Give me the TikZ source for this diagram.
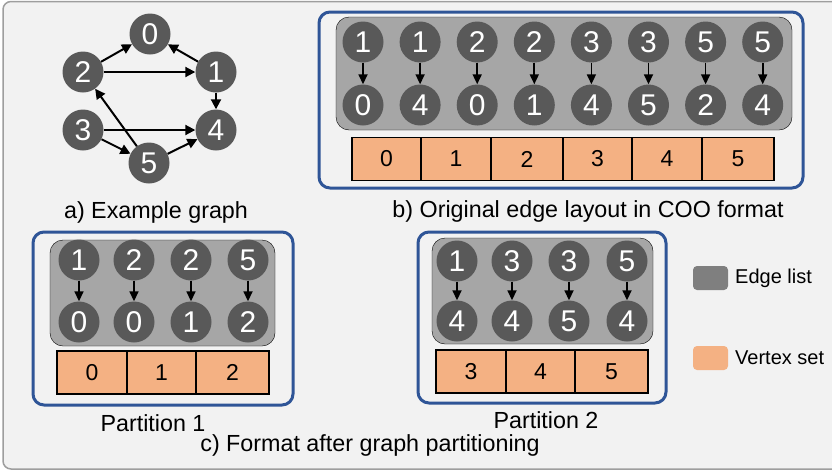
\documentclass[tikz,border=0pt]{standalone}
\usepackage{fontspec}
\setmainfont{Liberation Sans}
\usetikzlibrary{arrows.meta}
\definecolor{panel}{HTML}{F2F2F2}
\definecolor{panelline}{HTML}{9E9E9E}
\definecolor{vtx}{HTML}{595959}
\definecolor{edgebg}{HTML}{A6A6A6}
\definecolor{legendgray}{HTML}{7F7F7F}
\definecolor{cell}{HTML}{F4B183}
\definecolor{frame}{HTML}{2F5597}
\tikzset{
  vert/.style={circle, fill=vtx, text=white, minimum size=41pt, inner sep=0pt,
    font=\fontsize{30}{30}\selectfont},
  link/.style={line width=2pt, -{Triangle[length=10pt,width=10pt]}},
  slink/.style={line width=1.7pt, -{Triangle[length=10pt,width=9pt]}},
  groupbox/.style={draw=frame, line width=3pt, rounded corners=11pt},
  edgelist/.style={fill=edgebg, rounded corners=13pt},
  cellbox/.style={draw=black, fill=cell, line width=1.2pt, inner sep=0pt,
    minimum height=43pt, font=\fontsize{23}{23}\selectfont},
  caption/.style={font=\fontsize{23.3}{23.3}\selectfont, inner sep=0pt},
  legendtext/.style={font=\fontsize{20}{20}\selectfont, inner sep=0pt, anchor=west},
  swatch/.style={rounded corners=4pt, minimum width=35pt, minimum height=24pt, inner sep=0pt},
}
\begin{document}
\begin{tikzpicture}[x=1pt, y=-1pt]
\useasboundingbox (0,0) rectangle (832,472);
% background panel
\draw[fill=panel, draw=panelline, line width=1.5pt, rounded corners=8pt] (3,1.5) rectangle (845,469);

% a) example graph
\node[vert] (g0) at (150,34) {0};
\node[vert] (g2) at (83,72) {2};
\node[vert] (g1) at (216,72) {1};
\node[vert] (g3) at (83,130) {3};
\node[vert] (g4) at (216,130) {4};
\node[vert] (g5) at (149,163) {5};
\draw[link] (g2) -- (g0);
\draw[link] (g1) -- (g0);
\draw[link] (g2) -- (g1);
\draw[link] (g1) -- (g4);
\draw[link] (g3) -- (g4);
\draw[link] (g3) -- (g5);
\draw[link] (g5) -- (g4);
\draw[link] (g5) -- (g2);
\node[caption] (capa) at (156,212) {a) Example graph};

% b) COO layout
\draw[groupbox] (319,12) rectangle (803,188);
\draw[edgelist] (336,17) rectangle (792,130);
\foreach \i/\s/\d in {0/1/0,1/1/4,2/2/0,3/2/1,4/3/4,5/3/5,6/5/2,7/5/4}{
  \node[vert] (bs\i) at ({363+57.1*\i},42) {\s};
  \node[vert] (bd\i) at ({363+57.1*\i},105) {\d};
  \draw[slink] (bs\i.south) -- (bd\i.north);
}
\foreach \i/\a/\b in {0/352/421,1/421/491,2/491/563,3/563/632,4/632/702,5/702/774}{
  \node[cellbox, minimum width={\b-\a}] (bc\i) at ({(\a+\b)/2},159) {\i};
}
\node[caption] (capb) at (588,211) {b) Original edge layout in COO format};

% c) partition 1
\draw[groupbox] (33,232) rectangle (293,405);
\draw[edgelist] (50,240) rectangle (275,346);
\foreach \i/\x/\s/\d in {0/79/1/0,1/134/2/0,2/191/2/1,3/248/5/2}{
  \node[vert] (ps\i) at (\x,260) {\s};
  \node[vert] (pd\i) at (\x,322) {\d};
  \draw[slink] (ps\i.south) -- (pd\i.north);
}
\foreach \i/\a/\b/\t in {0/57/127/0,1/127/196/1,2/196/269/2}{
  \node[cellbox, minimum width={\b-\a}] (pc\i) at ({(\a+\b)/2},372.5) {\t};
}
\node[caption] (capp1) at (153,423) {Partition 1};

% c) partition 2
\draw[groupbox] (418,232) rectangle (666,403);
\draw[edgelist] (432,238) rectangle (653,344);
\foreach \i/\x/\s/\d in {0/457/1/4,1/512/3/4,2/569/3/5,3/627/5/4}{
  \node[vert] (qs\i) at (\x,261) {\s};
  \node[vert] (qd\i) at (\x,321) {\d};
  \draw[slink] (qs\i.south) -- (qd\i.north);
}
\foreach \i/\a/\b/\t in {0/436/506/3,1/506/575/4,2/575/648/5}{
  \node[cellbox, minimum width={\b-\a}] (qc\i) at ({(\a+\b)/2},371.5) {\t};
}
\node[caption] (capp2) at (546,420) {Partition 2};
\node[caption] (capc) at (370,445) {c) Format after graph partitioning};

% legend
\node[swatch, fill=legendgray] (leg1) at (710.5,278) {};
\node[legendtext] (leg1t) at (735,278) {Edge list};
\node[swatch, fill=cell] (leg2) at (710.5,358) {};
\node[legendtext] (leg2t) at (735,358) {Vertex set};
\end{tikzpicture}
\end{document}
